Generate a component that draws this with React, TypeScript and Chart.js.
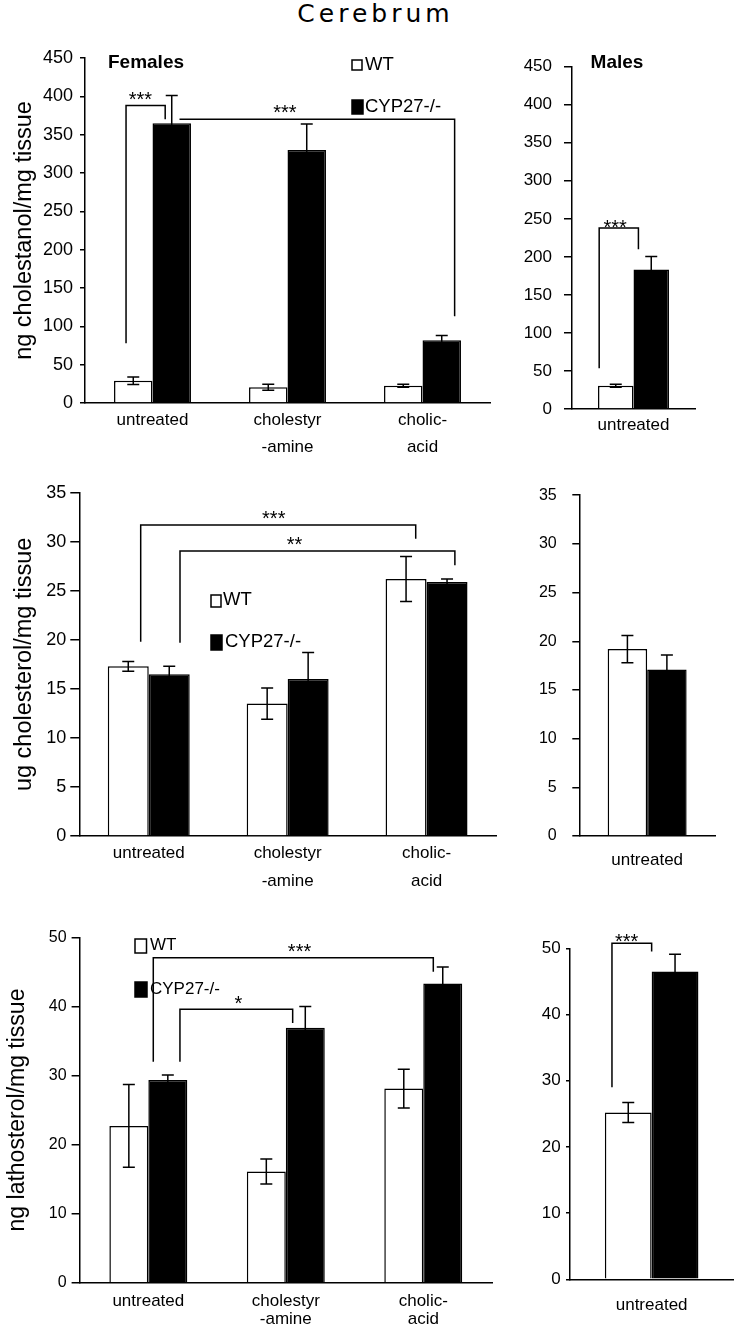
import React, { useEffect, useRef } from "react";
import { Chart, registerables } from "chart.js";

Chart.register(...registerables);

const FAMILY = "'Liberation Sans', Arial, Helvetica, sans-serif";

// ---------------- data ----------------
const femaleCategories: (string | string[])[] = ["untreated", ["cholestyr", "-amine"], ["cholic-", "acid"]];
const maleCategories: string[] = ["untreated"];
const seriesNames = ["WT", "CYP27-/-"];

// cholestanol (ng / mg tissue)
const cholestanolFemaleWT = [29, 20.5, 22.6];
const cholestanolFemaleWTErr = [5, 4, 2];
const cholestanolFemaleKO = [365, 330, 82];
const cholestanolFemaleKOErr = [36, 34, 6];
const cholestanolMaleWT = [30.6];
const cholestanolMaleWTErr = [2];
const cholestanolMaleKO = [183.5];
const cholestanolMaleKOErr = [17];

// cholesterol (ug / mg tissue)
const cholesterolFemaleWT = [17.3, 13.5, 26.2];
const cholesterolFemaleWTErr = [0.5, 1.6, 2.3];
const cholesterolFemaleKO = [16.5, 16.0, 25.9];
const cholesterolFemaleKOErr = [0.8, 2.7, 0.3];
const cholesterolMaleWT = [19.2];
const cholesterolMaleWTErr = [1.4];
const cholesterolMaleKO = [17.1];
const cholesterolMaleKOErr = [1.5];

// lathosterol (ng / mg tissue)
const lathosterolFemaleWT = [22.7, 16.1, 28.1];
const lathosterolFemaleWTErr = [6, 1.8, 2.8];
const lathosterolFemaleKO = [29.35, 36.9, 43.3];
const lathosterolFemaleKOErr = [0.7, 3.1, 2.4];
const lathosterolMaleWT = [25.2];
const lathosterolMaleWTErr = [1.5];
const lathosterolMaleKO = [46.5];
const lathosterolMaleKOErr = [2.6];

// axis ranges
const cholestanolAxis = { max: 450, step: 50 };
const cholesterolAxis = { max: 35, step: 5 };
const lathosterolAxis = { max: 50, step: 10 };

// significance brackets (x: category index + offset, y: data units)
type Bracket = { x1: number; x2: number; y: number; y1: number | null; y2: number | null; label: string; lx: number; ly: number };
const cholestanolFemaleBrackets: Bracket[] = [
  { x1: -0.196, x2: 0.094, y: 388, y1: 78, y2: 370, label: "***", lx: -0.09, ly: 402 },
  { x1: 0.2, x2: 2.238, y: 370, y1: null, y2: 113, label: "***", lx: 0.98, ly: 385 },
];
const cholestanolMaleBrackets: Bracket[] = [
  { x1: -0.279, x2: 0.04, y: 238, y1: 53.5, y2: 210, label: "***", lx: -0.15, ly: 245 },
];
const cholesterolFemaleBrackets: Bracket[] = [
  { x1: -0.058, x2: 1.922, y: 31.7, y1: 19.8, y2: 30.3, label: "***", lx: 0.9, ly: 32.9 },
  { x1: 0.225, x2: 2.204, y: 29.05, y1: 19.7, y2: 27.6, label: "**", lx: 1.05, ly: 30.2 },
];
const lathosterolFemaleBrackets: Bracket[] = [
  { x1: 0.036, x2: 2.073, y: 47.05, y1: 32.0, y2: 45.0, label: "***", lx: 1.1, ly: 48.6 },
  { x1: 0.23, x2: 1.05, y: 39.6, y1: 32.0, y2: 37.6, label: "*", lx: 0.655, ly: 41.2 },
];
const lathosterolMaleBrackets: Bracket[] = [
  { x1: -0.243, x2: 0.0, y: 50.75, y1: 29.0, y2: 49.5, label: "***", lx: -0.153, ly: 51.75 },
];

// ---------------- layout ----------------
type LegendItem = { x: number; y: number; w: number; h: number; tx: number; ty: number };
type PanelSpec = {
  rect: { x: number; y: number; w: number; h: number };
  area: { l: number; t: number; r: number; b: number };
  labels: (string | string[])[];
  wt: number[];
  wtErr: number[];
  ko: number[];
  koErr: number[];
  axis: { max: number; step: number };
  yTick: { size: number; length: number; padding: number };
  yTitle?: { text: string; size: number; cx: number };
  xTick: { size: number; lineHeight: number; padding: number };
  catPct: number;
  brackets: Bracket[];
  legend?: { font: number; items: LegendItem[] };
  heading?: { text: string; x: number; y: number };
};

const panels: PanelSpec[] = [
  {
    rect: { x: 0, y: 40, w: 510, h: 425 },
    area: { l: 85, t: 58, r: 490, b: 403 },
    labels: femaleCategories,
    wt: cholestanolFemaleWT, wtErr: cholestanolFemaleWTErr,
    ko: cholestanolFemaleKO, koErr: cholestanolFemaleKOErr,
    axis: cholestanolAxis,
    yTick: { size: 18, length: 5, padding: 7 },
    yTitle: { text: "ng cholestanol/mg tissue", size: 23.5, cx: 25 },
    xTick: { size: 17, lineHeight: 27 / 17, padding: 3.5 },
    catPct: 0.57,
    brackets: cholestanolFemaleBrackets,
    legend: {
      font: 18.5,
      items: [
        { x: 352, y: 60, w: 10, h: 10, tx: 365, ty: 65 },
        { x: 352, y: 100, w: 11, h: 14, tx: 365, ty: 107 },
      ],
    },
    heading: { text: "Females", x: 146, y: 63 },
  },
  {
    rect: { x: 520, y: 40, w: 218, h: 425 },
    area: { l: 572, t: 66.7, r: 695, b: 409 },
    labels: maleCategories,
    wt: cholestanolMaleWT, wtErr: cholestanolMaleWTErr,
    ko: cholestanolMaleKO, koErr: cholestanolMaleKOErr,
    axis: cholestanolAxis,
    yTick: { size: 17, length: 8, padding: 12 },
    xTick: { size: 17, lineHeight: 1.2, padding: 5.8 },
    catPct: 0.577,
    brackets: cholestanolMaleBrackets,
    heading: { text: "Males", x: 617, y: 63 },
  },
  {
    rect: { x: 0, y: 470, w: 510, h: 430 },
    area: { l: 79.3, t: 492.7, r: 496, b: 836 },
    labels: femaleCategories,
    wt: cholesterolFemaleWT, wtErr: cholesterolFemaleWTErr,
    ko: cholesterolFemaleKO, koErr: cholesterolFemaleKOErr,
    axis: cholesterolAxis,
    yTick: { size: 18, length: 9, padding: 4 },
    yTitle: { text: "ug cholesterol/mg tissue", size: 23.5, cx: 25 },
    xTick: { size: 17, lineHeight: 28.3 / 17, padding: 3.1 },
    catPct: 0.59,
    brackets: cholesterolFemaleBrackets,
    legend: {
      font: 18.5,
      items: [
        { x: 211, y: 595, w: 10, h: 12, tx: 223, ty: 600 },
        { x: 211, y: 635, w: 11, h: 15, tx: 225, ty: 642 },
      ],
    },
  },
  {
    rect: { x: 520, y: 470, w: 218, h: 430 },
    area: { l: 579.3, t: 495, r: 715, b: 836 },
    labels: maleCategories,
    wt: cholesterolMaleWT, wtErr: cholesterolMaleWTErr,
    ko: cholesterolMaleKO, koErr: cholesterolMaleKOErr,
    axis: cholesterolAxis,
    yTick: { size: 16, length: 7, padding: 15.6 },
    xTick: { size: 17, lineHeight: 1.2, padding: 13.8 },
    catPct: 0.582,
    brackets: [],
  },
  {
    rect: { x: 0, y: 905, w: 510, h: 427 },
    area: { l: 79.6, t: 937.3, r: 492, b: 1282.7 },
    labels: femaleCategories,
    wt: lathosterolFemaleWT, wtErr: lathosterolFemaleWTErr,
    ko: lathosterolFemaleKO, koErr: lathosterolFemaleKOErr,
    axis: lathosterolAxis,
    yTick: { size: 16, length: 8, padding: 5 },
    yTitle: { text: "ng lathosterol/mg tissue", size: 23, cx: 17.5 },
    xTick: { size: 17, lineHeight: 18.4 / 17, padding: 9.1 },
    catPct: 0.567,
    brackets: lathosterolFemaleBrackets,
    legend: {
      font: 17,
      items: [
        { x: 135, y: 939, w: 11.5, h: 14, tx: 150, ty: 945 },
        { x: 135, y: 982, w: 12, h: 15, tx: 150, ty: 989 },
      ],
    },
  },
  {
    rect: { x: 520, y: 905, w: 218, h: 427 },
    area: { l: 570, t: 948.3, r: 733.3, b: 1279.3 },
    labels: maleCategories,
    wt: lathosterolMaleWT, wtErr: lathosterolMaleWTErr,
    ko: lathosterolMaleKO, koErr: lathosterolMaleKOErr,
    axis: lathosterolAxis,
    yTick: { size: 17, length: 4, padding: 5.3 },
    xTick: { size: 17, lineHeight: 1.2, padding: 15.5 },
    catPct: 0.573,
    brackets: lathosterolMaleBrackets,
  },
];

function overlayPlugin(spec: PanelSpec) {
  return {
    id: "overlay",
    afterDraw(chart: any) {
      const ctx: CanvasRenderingContext2D = chart.ctx;
      const xs = chart.scales.x;
      const ys = chart.scales.y;
      const n = spec.labels.length;
      const cw = (chart.chartArea.right - chart.chartArea.left) / n;
      const x0 = xs.getPixelForValue(0);
      const px = (v: number) => x0 + v * cw;
      const py = (v: number) => ys.getPixelForValue(v);
      const rx = spec.rect.x;
      const ry = spec.rect.y;
      ctx.save();
      ctx.strokeStyle = "#000";
      ctx.fillStyle = "#000";
      ctx.lineWidth = 1.5;
      ctx.lineCap = "butt";

      // error bars
      [spec.wtErr, spec.koErr].forEach((errs, di) => {
        const vals = di === 0 ? spec.wt : spec.ko;
        const meta = chart.getDatasetMeta(di);
        meta.data.forEach((el: any, j: number) => {
          const x = el.x;
          const hi = py(vals[j] + errs[j]);
          const lo = py(vals[j] - errs[j]);
          ctx.beginPath();
          ctx.moveTo(x, hi);
          ctx.lineTo(x, lo);
          ctx.moveTo(x - 6, hi);
          ctx.lineTo(x + 6, hi);
          ctx.moveTo(x - 6, lo);
          ctx.lineTo(x + 6, lo);
          ctx.stroke();
        });
      });

      // significance brackets
      spec.brackets.forEach((b) => {
        const yT = py(b.y);
        ctx.beginPath();
        if (b.y1 !== null) {
          ctx.moveTo(px(b.x1), py(b.y1));
          ctx.lineTo(px(b.x1), yT);
        } else {
          ctx.moveTo(px(b.x1), yT);
        }
        ctx.lineTo(px(b.x2), yT);
        if (b.y2 !== null) ctx.lineTo(px(b.x2), py(b.y2));
        ctx.stroke();
        ctx.font = `20px ${FAMILY}`;
        ctx.textAlign = "center";
        ctx.textBaseline = "alphabetic";
        ctx.fillText(b.label, px(b.lx), py(b.ly) + 11.5);
      });

      // legend
      if (spec.legend) {
        spec.legend.items.forEach((it, i) => {
          ctx.fillStyle = i === 0 ? "#fff" : "#000";
          ctx.fillRect(it.x - rx, it.y - ry, it.w, it.h);
          ctx.strokeRect(it.x - rx, it.y - ry, it.w, it.h);
          ctx.fillStyle = "#000";
          ctx.font = `${spec.legend!.font}px ${FAMILY}`;
          ctx.textAlign = "left";
          ctx.textBaseline = "middle";
          ctx.fillText(seriesNames[i], it.tx - rx, it.ty - ry);
        });
      }

      // heading
      if (spec.heading) {
        ctx.fillStyle = "#000";
        ctx.font = `bold 19px ${FAMILY}`;
        ctx.textAlign = "center";
        ctx.textBaseline = "middle";
        ctx.fillText(spec.heading.text, spec.heading.x - rx, spec.heading.y - ry);
      }
      ctx.restore();
    },
  };
}

function buildConfig(spec: PanelSpec): any {
  const { rect, area } = spec;
  return {
    type: "bar",
    data: {
      labels: spec.labels,
      datasets: [
        {
          label: seriesNames[0],
          data: spec.wt,
          backgroundColor: "#ffffff",
          borderColor: "#000000",
          borderWidth: 1.5,
          categoryPercentage: spec.catPct,
          barPercentage: 1,
        },
        {
          label: seriesNames[1],
          data: spec.ko,
          backgroundColor: "#000000",
          borderColor: "#000000",
          borderWidth: 1.5,
          categoryPercentage: spec.catPct,
          barPercentage: 1,
        },
      ],
    },
    options: {
      responsive: false,
      animation: false,
      devicePixelRatio: 1,
      events: [],
      layout: {
        padding: { left: 0, top: area.t - rect.y, right: rect.x + rect.w - area.r, bottom: 0 },
      },
      plugins: {
        legend: { display: false },
        tooltip: { enabled: false },
        title: { display: false },
      },
      scales: {
        x: {
          type: "category",
          offset: true,
          grid: { display: false, drawTicks: false },
          border: { display: true, color: "#000", width: 1.5 },
          ticks: {
            color: "#000",
            autoSkip: false,
            maxRotation: 0,
            minRotation: 0,
            padding: spec.xTick.padding,
            font: { family: FAMILY, size: spec.xTick.size, lineHeight: spec.xTick.lineHeight },
          },
          afterFit: (s: any) => {
            s.height = rect.y + rect.h - area.b;
          },
        },
        y: {
          min: 0,
          max: spec.axis.max,
          ticks: {
            stepSize: spec.axis.step,
            color: "#000",
            padding: spec.yTick.padding,
            font: { family: FAMILY, size: spec.yTick.size },
          },
          grid: {
            drawOnChartArea: false,
            drawTicks: true,
            tickLength: spec.yTick.length,
            color: "#000",
            lineWidth: 1.5,
          },
          border: { display: true, color: "#000", width: 1.5 },
          title: spec.yTitle
            ? {
                display: true,
                text: spec.yTitle.text,
                color: "#000",
                font: { family: FAMILY, size: spec.yTitle.size },
                padding: { top: spec.yTitle.cx - rect.x - (spec.yTitle.size * 1.2) / 2, bottom: 0 },
              }
            : { display: false },
          afterFit: (s: any) => {
            s.width = area.l - rect.x;
          },
        },
      },
    },
    plugins: [overlayPlugin(spec)],
  };
}

function Panel({ spec }: { spec: PanelSpec }) {
  const ref = useRef<HTMLCanvasElement>(null);
  useEffect(() => {
    if (!ref.current) return;
    const chart = new Chart(ref.current, buildConfig(spec));
    return () => chart.destroy();
  }, [spec]);
  return (
    <canvas
      ref={ref}
      width={spec.rect.w}
      height={spec.rect.h}
      style={{
        position: "absolute",
        left: spec.rect.x,
        top: spec.rect.y,
        width: spec.rect.w,
        height: spec.rect.h,
      }}
    />
  );
}

export default function App() {
  return (
    <div
      style={{
        position: "absolute",
        left: 0,
        top: 0,
        width: 738,
        height: 1332,
        background: "#fff",
        overflow: "hidden",
      }}
    >
      <div
        style={{
          position: "absolute",
          left: 175.5,
          top: -1,
          width: 400,
          textAlign: "center",
          fontFamily: "'DejaVu Sans', sans-serif",
          fontSize: 25,
          letterSpacing: 4,
          lineHeight: "normal",
          color: "#000",
        }}
      >
        Cerebrum
      </div>
      {panels.map((p, i) => (
        <Panel key={i} spec={p} />
      ))}
    </div>
  );
}
